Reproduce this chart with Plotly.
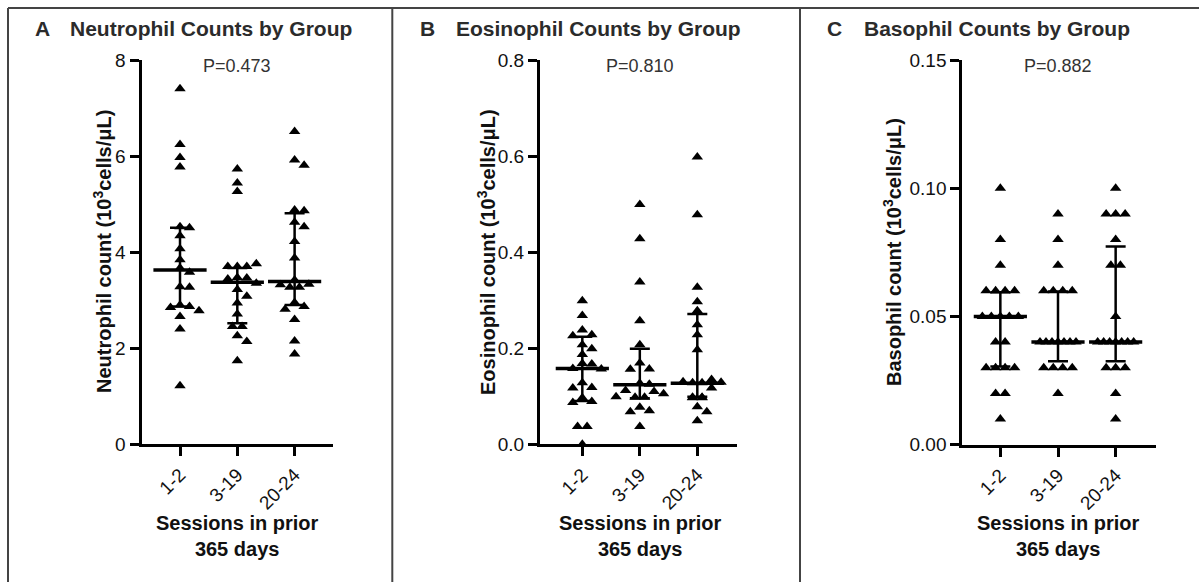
import numpy as np
import plotly.graph_objects as go

W, H = 1199, 582

categories = ["1-2", "3-19", "20-24"]

# Panel A: Neutrophil counts (10^3 cells/uL)
neut_1_2 = [7.40, 6.24, 5.97, 5.77, 4.53, 4.51, 4.34, 4.07, 3.84, 3.67, 3.58, 3.28, 3.27, 2.90, 2.87, 2.85, 2.78, 2.66, 2.40, 1.22]
neut_3_19 = [5.73, 5.44, 5.26, 3.76, 3.70, 3.70, 3.70, 3.47, 3.46, 3.44, 3.35, 3.22, 3.08, 2.94, 2.71, 2.45, 2.45, 2.26, 2.14, 1.74]
neut_20_24 = [6.51, 5.92, 5.81, 4.88, 4.86, 4.62, 4.53, 4.22, 3.88, 3.42, 3.33, 3.32, 3.27, 3.27, 2.95, 2.87, 2.81, 2.60, 2.15, 1.88]
neut_median = [3.63, 3.375, 3.39]
neut_q1 = [2.87, 2.52, 2.90]
neut_q3 = [4.51, 3.67, 4.81]

# Panel B: Eosinophil counts
eos_1_2 = [0.299, 0.268, 0.238, 0.228, 0.226, 0.207, 0.199, 0.187, 0.168, 0.167, 0.158, 0.157, 0.128, 0.118, 0.117, 0.097, 0.089, 0.087, 0.037, 0.037, 0.0]
eos_3_19 = [0.499, 0.428, 0.338, 0.257, 0.207, 0.169, 0.157, 0.156, 0.127, 0.125, 0.112, 0.110, 0.105, 0.099, 0.098, 0.098, 0.077, 0.070, 0.068, 0.037]
eos_20_24 = [0.598, 0.478, 0.327, 0.297, 0.278, 0.249, 0.228, 0.197, 0.135, 0.130, 0.129, 0.128, 0.128, 0.117, 0.098, 0.098, 0.097, 0.097, 0.078, 0.068, 0.049]
eos_median = [0.158, 0.124, 0.127]
eos_q1 = [0.090, 0.096, 0.099]
eos_q3 = [0.224, 0.199, 0.271]

# Panel C: Basophil counts
baso_1_2 = [0.10, 0.08, 0.07, 0.06, 0.06, 0.06, 0.06, 0.05, 0.05, 0.05, 0.05, 0.05, 0.04, 0.04, 0.03, 0.03, 0.03, 0.03, 0.02, 0.02, 0.01]
baso_3_19 = [0.09, 0.08, 0.07, 0.06, 0.06, 0.06, 0.06, 0.04, 0.04, 0.04, 0.04, 0.04, 0.04, 0.04, 0.03, 0.03, 0.03, 0.03, 0.02]
baso_20_24 = [0.10, 0.09, 0.09, 0.09, 0.08, 0.07, 0.07, 0.05, 0.04, 0.04, 0.04, 0.04, 0.04, 0.04, 0.04, 0.03, 0.03, 0.03, 0.02, 0.01]
baso_median = [0.05, 0.04, 0.04]
baso_q1 = [0.0305, 0.0325, 0.0325]
baso_q3 = [0.0594, 0.0597, 0.0773]

p_values = ["P=0.473", "P=0.810", "P=0.882"]
panel_letters = ["A", "B", "C"]
panel_titles = ["Neutrophil Counts by Group", "Eosinophil Counts by Group", "Basophil Counts by Group"]
y_titles = ["Neutrophil count (10<sup>3</sup>cells/\u03bcL)",
            "Eosinophil count (10<sup>3</sup>cells/\u03bcL)",
            "Basophil count (10<sup>3</sup>cells/\u03bcL)"]
x_title = "Sessions in prior<br>365 days"

FONT = "Liberation Sans, Arial, Helvetica, sans-serif"

# ---- layout geometry (pixels) ----
panels = [
    dict(data=[neut_1_2, neut_3_19, neut_20_24], med=neut_median, q1=neut_q1, q3=neut_q3,
         xpx=(141.5, 333.0), ypx=(60.0, 444.3), xr=(-0.672, 2.67), yr=(0, 8),
         ticks=[0, 2, 4, 6, 8], fmt="d", ytx=102),
    dict(data=[eos_1_2, eos_3_19, eos_20_24], med=eos_median, q1=eos_q1, q3=eos_q3,
         xpx=(540.0, 736.7), ypx=(60.0, 444.3), xr=(-0.736, 2.685), yr=(0, 0.8),
         ticks=[0, 0.2, 0.4, 0.6, 0.8], fmt=".1f", ytx=486),
    dict(data=[baso_1_2, baso_3_19, baso_20_24], med=baso_median, q1=baso_q1, q3=baso_q3,
         xpx=(962.3, 1156.0), ypx=(60.0, 444.7), xr=(-0.66, 2.70), yr=(0, 0.15),
         ticks=[0, 0.05, 0.10, 0.15], fmt=".2f", ytx=892),
]
title_x = [(33, 68), (418, 454), (825, 862)]


def swarm(values, ppu_y, dx=9.5, dy=8.0, maxw=18.0):
    """Simple beeswarm: returns horizontal offsets in pixels."""
    vals = np.asarray(values, dtype=float)
    n = len(vals)
    off = np.zeros(n)
    placed = []
    groups = {}
    for i, v in enumerate(vals):
        groups.setdefault(round(v, 6), []).append(i)
    singles = []
    for v, idx in groups.items():
        if len(idx) > 1:
            k = len(idx)
            step = min(dx, 2 * maxw / (k - 1))
            for j, i in enumerate(idx):
                off[i] = (j - (k - 1) / 2) * step
                placed.append((off[i], vals[i] * ppu_y))
        else:
            singles.append(idx[0])
    cands = [0.0]
    for k in range(1, 12):
        cands += [k * dx / 2, -k * dx / 2]
    for i in singles:
        y = vals[i] * ppu_y
        for c in cands:
            ok = all(((c - px) / dx) ** 2 + ((y - py) / dy) ** 2 >= 1.0 for px, py in placed)
            if ok:
                off[i] = c
                break
        placed.append((off[i], y))
    return off


fig = go.Figure()
layout = dict(width=W, height=H, margin=dict(l=0, r=0, t=0, b=0, pad=0), autosize=False,
              paper_bgcolor="white", plot_bgcolor="white", showlegend=False,
              font=dict(family=FONT, color="#111"))
annotations = []
shapes = []

for k, p in enumerate(panels):
    sfx = "" if k == 0 else str(k + 1)
    xa, ya = "x" + sfx, "y" + sfx
    x0, x1 = p["xpx"]
    yt, yb = p["ypx"]
    ppu_x = (x1 - x0) / (p["xr"][1] - p["xr"][0])
    ppu_y = (yb - yt) / (p["yr"][1] - p["yr"][0])
    for g, vals in enumerate(p["data"]):
        off = swarm(vals, ppu_y)
        fig.add_trace(go.Scatter(
            x=g + off / ppu_x, y=vals, mode="markers", xaxis=xa, yaxis=ya,
            marker=dict(symbol="triangle-up", size=10, color="black", line=dict(width=0)),
            hoverinfo="skip"))
    med = np.array(p["med"])
    fig.add_trace(go.Scatter(
        x=list(range(3)), y=med, mode="markers", xaxis=xa, yaxis=ya,
        marker=dict(symbol="line-ew", size=38, color="black", line=dict(width=3.5, color="black")),
        error_y=dict(type="data", symmetric=False, array=np.array(p["q3"]) - med,
                     arrayminus=med - np.array(p["q1"]), width=10, thickness=2.5, color="black"),
        hoverinfo="skip"))

    axcommon = dict(showgrid=False, zeroline=False, showline=True, linecolor="black", linewidth=3,
                    ticks="outside", ticklen=9, tickwidth=3, tickcolor="black", automargin=False,
                    tickfont=dict(family=FONT, size=19, color="#111"))
    layout["xaxis" + sfx] = dict(axcommon, domain=[x0 / W, x1 / W], range=list(p["xr"]),
                                 anchor=ya, tickmode="array", tickvals=[0, 1, 2],
                                 ticktext=categories, tickangle=-45)
    layout["yaxis" + sfx] = dict(axcommon, domain=[1 - yb / H, 1 - yt / H], range=list(p["yr"]),
                                 anchor=xa, tickmode="array", tickvals=p["ticks"],
                                 tickformat=p["fmt"])

    # panel letter and title
    lx, tx = title_x[k]
    annotations.append(dict(xref="paper", yref="paper", x=lx / W, y=1 - 28 / H, text="<b>%s</b>" % panel_letters[k],
                            showarrow=False, xanchor="left", yanchor="middle",
                            font=dict(family=FONT, size=21, color="#2b2b2b")))
    annotations.append(dict(xref="paper", yref="paper", x=tx / W, y=1 - 28 / H, text="<b>%s</b>" % panel_titles[k],
                            showarrow=False, xanchor="left", yanchor="middle",
                            font=dict(family=FONT, size=21, color="#2b2b2b")))
    # p-value
    annotations.append(dict(xref=xa, yref="paper", x=1, y=1 - 66 / H, text=p_values[k],
                            showarrow=False, xanchor="center", yanchor="middle",
                            font=dict(family=FONT, size=18, color="#333")))
    # x title
    annotations.append(dict(xref=xa, yref="paper", x=1, y=1 - 535.5 / H, text="<b>%s</b>" % x_title,
                            showarrow=False, xanchor="center", yanchor="middle",
                            font=dict(family=FONT, size=20, color="#111")))
    # y title
    annotations.append(dict(xref="paper", yref="paper", x=p["ytx"] / W, y=1 - 252 / H,
                            text="<b>%s</b>" % y_titles[k], textangle=-90,
                            showarrow=False, xanchor="center", yanchor="middle",
                            font=dict(family=FONT, size=20, color="#111")))

# panel frames
bc = "#444"
shapes.append(dict(type="line", xref="paper", yref="paper", x0=8 / W, x1=1, y0=1 - 8 / H, y1=1 - 8 / H,
                   line=dict(color=bc, width=2)))
for xv in [8, 392.3, 800]:
    shapes.append(dict(type="line", xref="paper", yref="paper", x0=xv / W, x1=xv / W, y0=0, y1=1 - 8 / H,
                       line=dict(color=bc, width=2)))

layout["annotations"] = annotations
layout["shapes"] = shapes
fig.update_layout(**layout)

post = ("var gd=document.getElementById('{plot_id}');"
        "gd.style.position='fixed';gd.style.top='0px';gd.style.left='0px';"
        "document.body.style.margin='0px';document.body.style.padding='0px';"
        "document.body.style.height='582px';document.body.style.overflow='hidden';"
        "document.documentElement.style.overflow='hidden';")
fig.write_html("out.html", config={"responsive": False, "displayModeBar": False}, post_script=post)
